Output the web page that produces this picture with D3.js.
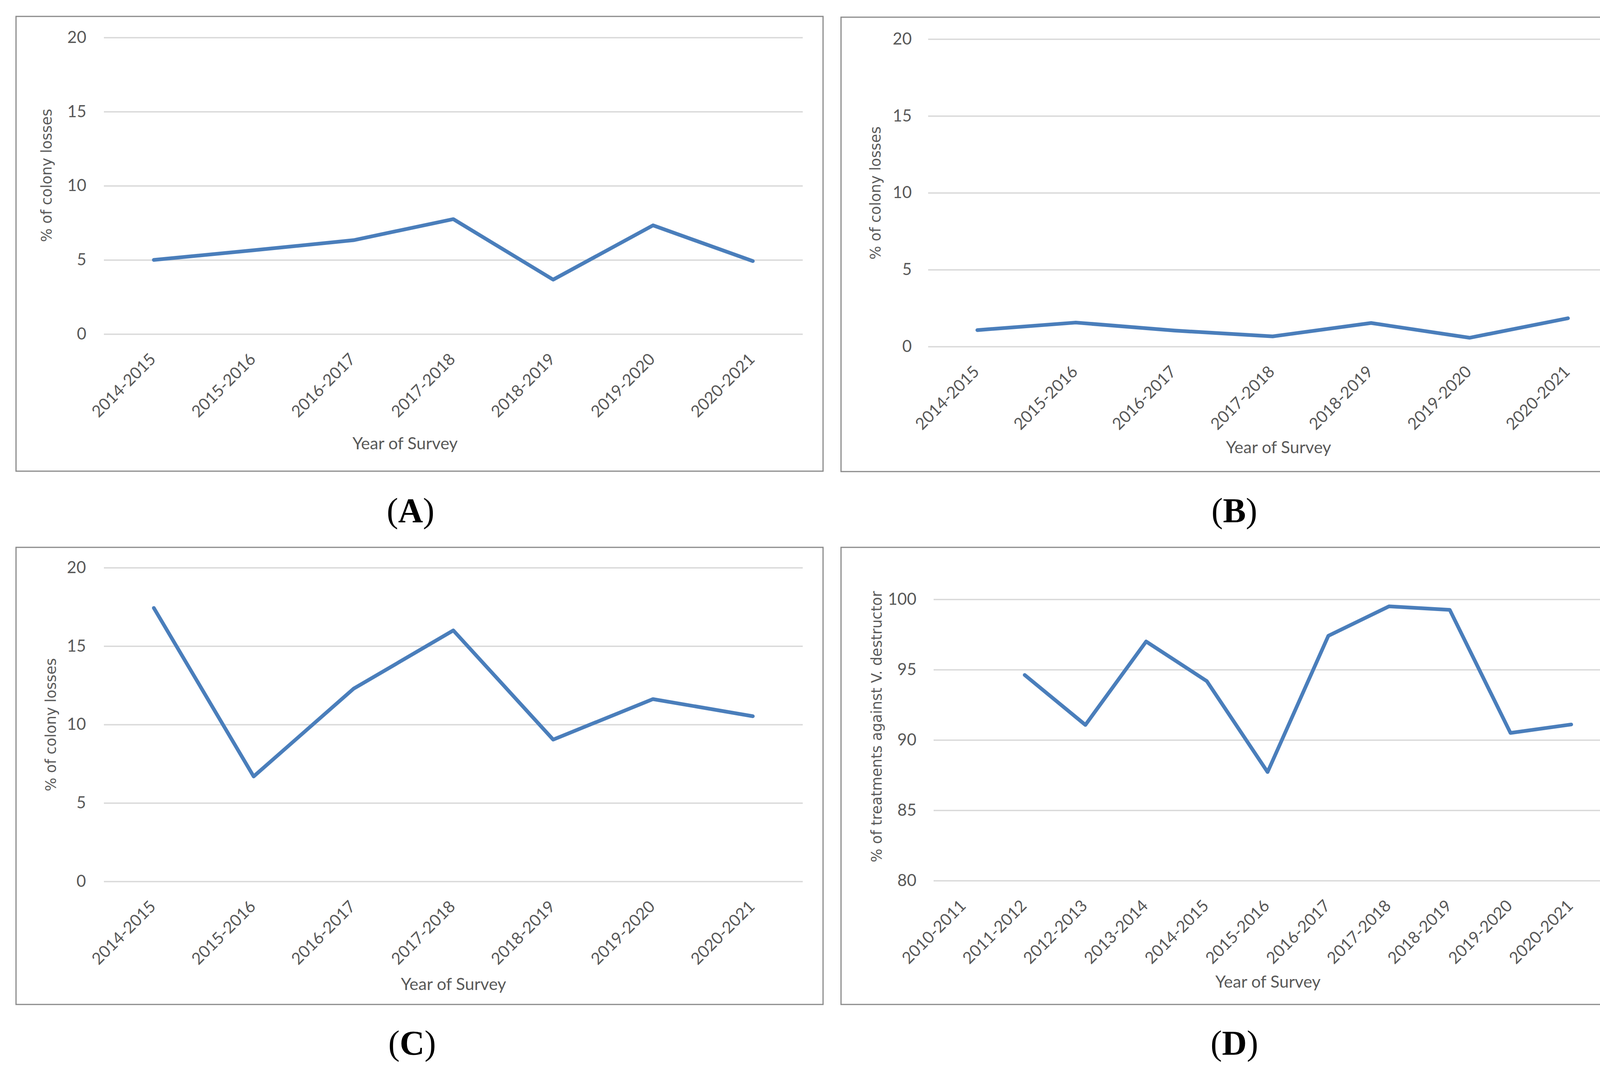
<!DOCTYPE html>
<html>
<head>
<meta charset="utf-8">
<script src="https://cdn.jsdelivr.net/npm/d3@7/dist/d3.min.js"></script>
<style>
  body { margin: 0; background: #fff; }
</style>
</head>
<body>
<svg id="fig"></svg>
<script>
// seasons on the x axis
const seasons7 = ["2014-2015", "2015-2016", "2016-2017", "2017-2018", "2018-2019", "2019-2020", "2020-2021"];
const seasons11 = ["2010-2011", "2011-2012", "2012-2013", "2013-2014", "2014-2015", "2015-2016",
                   "2016-2017", "2017-2018", "2018-2019", "2019-2020", "2020-2021"];

// % of colony losses (A, B, C) and % of treatments (D)
const lossesA = [5.0, 5.65, 6.33, 7.75, 3.67, 7.33, 4.92];
const lossesB = [1.07, 1.56, 1.04, 0.66, 1.53, 0.57, 1.84];
const lossesC = [17.43, 6.69, 12.28, 16.0, 9.04, 11.62, 10.53];
const treatmentsD = [null, 94.62, 91.07, 97.0, 94.18, 87.72, 97.4, 99.5, 99.25, 90.5, 91.1];

const lossTicks = [0, 5, 10, 15, 20];
const treatTicks = [80, 85, 90, 95, 100];

const lossTitle = "% of colony losses";
const treatTitle = "% of treatments against V. destructor";
const xTitle = "Year of Survey";

const W = 4246, H = 2749;
const svg = d3.select('#fig').attr('width', W).attr('height', H);

// layout of each panel (pixels)
const panels = [
  { letter: "A", cats: seasons7, values: lossesA, ticks: lossTicks, yTitle: lossTitle,
    frame: [41, 42, 2107, 1206], px: [266, 2055], py: [855, 96], tickRight: 221,
    yt: [132, 449], xt: [1037, 1150], lab: [1051, 1336] },
  { letter: "B", cats: seasons7, values: lossesB, ticks: lossTicks, yTitle: lossTitle,
    frame: [2153, 44, 4212, 1207], px: [2376, 4140], py: [887, 100], tickRight: 2334,
    yt: [2254, 494], xt: [3273, 1160], lab: [3160, 1336] },
  { letter: "C", cats: seasons7, values: lossesC, ticks: lossTicks, yTitle: lossTitle,
    frame: [41, 1401, 2107, 2571], px: [266, 2055], py: [2256, 1453], tickRight: 220,
    yt: [143, 1855], xt: [1161, 2534], lab: [1055, 2699] },
  { letter: "D", cats: seasons11, values: treatmentsD, ticks: treatTicks, yTitle: treatTitle,
    frame: [2153, 1401, 4171, 2571], px: [2390, 4100], py: [2254, 1534], tickRight: 2346,
    yt: [2257, 1860], xt: [3246, 2528], lab: [3160, 2699] }
];

const textCol = '#595959';

function drawPanel(p) {
  const g = svg.append('g');

  g.append('rect')
    .attr('x', p.frame[0]).attr('y', p.frame[1])
    .attr('width', p.frame[2] - p.frame[0]).attr('height', p.frame[3] - p.frame[1])
    .attr('fill', 'none').attr('stroke', '#898989').attr('stroke-width', 3);

  const x = d3.scalePoint().domain(p.cats).range(p.px).padding(0.5);
  const y = d3.scaleLinear().domain(d3.extent(p.ticks)).range(p.py);

  // gridlines + y tick labels
  const ya = g.append('g')
    .attr('transform', `translate(${p.px[0]},0)`)
    .call(d3.axisLeft(y).tickValues(p.ticks)
      .tickSize(-(p.px[1] - p.px[0]))
      .tickPadding(p.px[0] - p.tickRight));
  ya.select('.domain').remove();
  ya.attr('font-family', 'Lato').attr('font-size', 42);
  ya.selectAll('.tick line').attr('stroke', '#d9d9d9').attr('stroke-width', 3.5);
  ya.selectAll('.tick text').attr('fill', textCol);

  // rotated x labels
  const xa = g.append('g')
    .attr('transform', `translate(0,${p.py[0]})`)
    .call(d3.axisBottom(x).tickSize(0).tickPadding(0));
  xa.select('.domain').remove();
  xa.attr('font-family', 'Lato').attr('font-size', 42);
  xa.selectAll('.tick text')
    .attr('fill', textCol)
    .attr('y', 0).attr('dy', null)
    .attr('text-anchor', 'end')
    .attr('transform', 'translate(7,67) rotate(-45)');

  // the series
  const line = d3.line()
    .defined(d => d[1] != null)
    .x(d => x(d[0]))
    .y(d => y(d[1]));
  g.append('path')
    .datum(p.cats.map((c, i) => [c, p.values[i]]))
    .attr('d', line)
    .attr('fill', 'none')
    .attr('stroke', '#4a7ebb')
    .attr('stroke-width', 9.5)
    .attr('stroke-linejoin', 'round')
    .attr('stroke-linecap', 'round');

  // axis titles
  g.append('text')
    .attr('transform', `translate(${p.yt[0]},${p.yt[1]}) rotate(-90)`)
    .attr('text-anchor', 'middle')
    .attr('font-family', 'DejaVu Sans')
    .attr('font-size', 37)
    .attr('fill', textCol)
    .text(p.yTitle);

  g.append('text')
    .attr('x', p.xt[0]).attr('y', p.xt[1])
    .attr('text-anchor', 'middle')
    .attr('font-family', 'Lato')
    .attr('font-size', 43)
    .attr('fill', textCol)
    .text(xTitle);

  // panel letter
  const lab = svg.append('text')
    .attr('x', p.lab[0]).attr('y', p.lab[1])
    .attr('text-anchor', 'middle')
    .attr('font-family', 'Liberation Serif')
    .attr('font-size', 88)
    .attr('fill', '#000');
  lab.append('tspan').text('(');
  lab.append('tspan').attr('font-weight', 'bold').text(p.letter);
  lab.append('tspan').text(')');
}

panels.forEach(drawPanel);
</script>
</body>
</html>
